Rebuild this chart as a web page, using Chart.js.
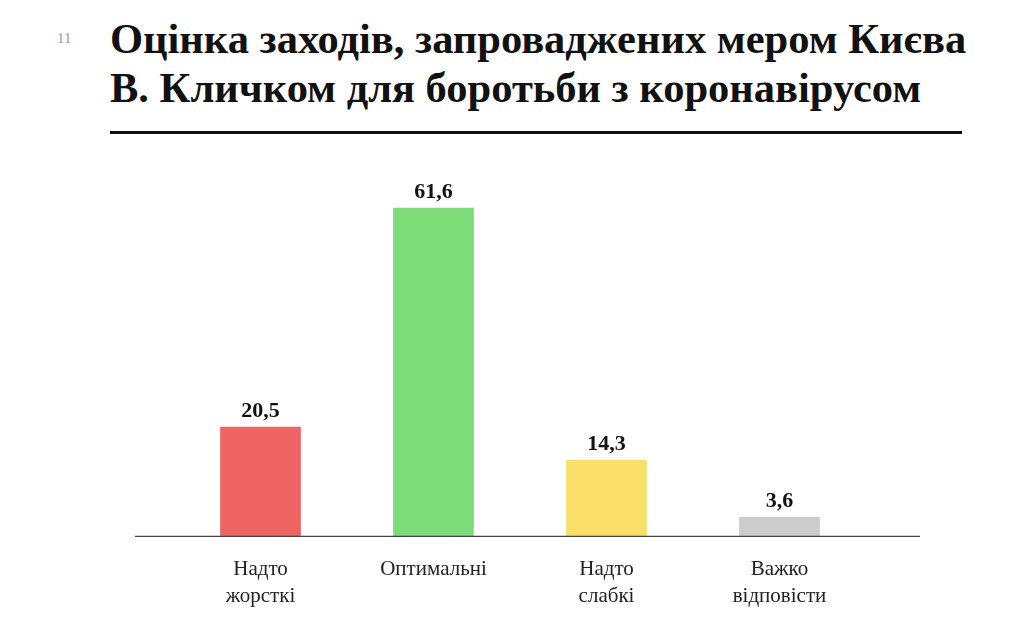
<!DOCTYPE html>
<html>
<head>
<meta charset="utf-8">
<script src="https://cdn.jsdelivr.net/npm/chart.js@4.4.0/dist/chart.umd.min.js"></script>
<style>
  body { margin: 0; background: #fff; overflow: hidden; }
  #wrap { position: relative; width: 1021px; height: 621px; overflow: hidden; }
  #page { position: absolute; left: 57px; top: 30px; font: 15px "Liberation Serif", serif; color: #999; }
  #title { position: absolute; left: 110px; top: 14px; font: bold 42.5px/49px "Liberation Serif", serif; color: #111; margin: 0; white-space: nowrap; }
  #rule { position: absolute; left: 110px; top: 131px; width: 852px; height: 3px; background: #111; }
  canvas { position: absolute; left: 0; top: 0; }
</style>
</head>
<body>
<div id="wrap">
  <div id="page">11</div>
  <h1 id="title">Оцінка заходів, запроваджених мером Києва<br>В. Кличком для боротьби з коронавірусом</h1>
  <div id="rule"></div>
  <canvas id="chart" width="1021" height="639"></canvas>
</div>
<script>
// data
const categories = [['Надто', 'жорсткі'], ['Оптимальні'], ['Надто', 'слабкі'], ['Важко', 'відповісти']];
const values = [20.5, 61.6, 14.3, 3.6];
const colors = ['#EE6463', '#7EDC78', '#F9E06B', '#CCCCCC'];

// value labels above bars + long baseline
const extras = {
    id: 'extras',
    afterDatasetsDraw(chart) {
        const ctx = chart.ctx;
        const y0 = chart.scales.y.getPixelForValue(0);
        ctx.save();
        ctx.strokeStyle = '#444';
        ctx.lineWidth = 1.2;
        ctx.beginPath();
        ctx.moveTo(135, y0);
        ctx.lineTo(920, y0);
        ctx.stroke();
        ctx.fillStyle = '#111';
        ctx.font = 'bold 22px "Liberation Serif", serif';
        ctx.textAlign = 'center';
        ctx.textBaseline = 'middle';
        chart.getDatasetMeta(0).data.forEach((bar, i) => {
            ctx.fillText(values[i].toString().replace('.', ','), bar.x, bar.y - 16);
        });
        ctx.restore();
    }
};

const config = {
    type: 'bar',
    data: {
        labels: categories,
        datasets: [{
            data: values,
            backgroundColor: colors,
            barThickness: 80
        }]
    },
    options: {
        responsive: false,
        animation: false,
        layout: { padding: { left: 174, right: 155, top: 190, bottom: 10 } },
        plugins: { legend: { display: false }, tooltip: { enabled: false } },
        scales: {
            x: {
                grid: { display: false, drawTicks: false },
                border: { display: false },
                ticks: {
                    color: '#222',
                    padding: 19,
                    font: { family: '"Liberation Serif", serif', size: 21, lineHeight: 1.3 }
                }
            },
            y: {
                display: false,
                min: 0,
                max: 65
            }
        }
    },
    plugins: [extras]
};

new Chart(document.getElementById('chart'), config);
</script>
</body>
</html>
